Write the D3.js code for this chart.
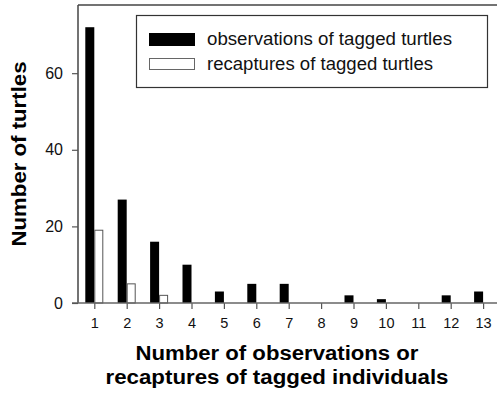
<!DOCTYPE html>
<html>
<head>
<meta charset="utf-8">
<script src="https://cdn.jsdelivr.net/npm/d3@7"></script>
<style>
  body { margin: 0; background: #fff; }
  svg { display: block; font-family: Arial, "Liberation Sans", Helvetica, sans-serif; }
</style>
</head>
<body>
<script>
// number of observations / recaptures (x categories)
const counts = [1, 2, 3, 4, 5, 6, 7, 8, 9, 10, 11, 12, 13];
const observations = [72, 27, 16, 10, 3, 5, 5, 0, 2, 1, 0, 2, 3];
const recaptures = [19, 5, 2, 0, 0, 0, 0, 0, 0, 0, 0, 0, 0];
const yTicks = [0, 20, 40, 60];
const seriesNames = ["observations of tagged turtles", "recaptures of tagged turtles"];

var width = 497, height = 394;
var plotLeft = 78, plotTop = 5, plotBottom = 303;

var svg = d3.select("body").append("svg")
    .attr("width", width).attr("height", height);

var x = d3.scaleLinear().domain([1, 13]).range([94.3, 483.1]);
var y = d3.scaleLinear().domain([0, 77.8]).range([plotBottom, plotTop]);
var barW = 9;

// frame (left + top)
svg.append("line").attr("x1", plotLeft).attr("x2", width).attr("y1", plotTop).attr("y2", plotTop)
   .attr("stroke", "#444").attr("stroke-width", 1.5);
svg.append("line").attr("x1", plotLeft).attr("x2", plotLeft).attr("y1", plotTop).attr("y2", plotBottom)
   .attr("stroke", "#444").attr("stroke-width", 1.5);

// bars
svg.append("g").selectAll("rect")
   .data(counts.map((c, i) => ({c: c, v: observations[i]})).filter(d => d.v > 0))
   .enter().append("rect")
   .attr("x", d => x(d.c) - barW)
   .attr("y", d => y(d.v))
   .attr("width", barW)
   .attr("height", d => plotBottom - y(d.v))
   .attr("fill", "#000");

svg.append("g").selectAll("rect")
   .data(counts.map((c, i) => ({c: c, v: recaptures[i]})).filter(d => d.v > 0))
   .enter().append("rect")
   .attr("x", d => x(d.c) + 0.5)
   .attr("y", d => y(d.v))
   .attr("width", barW - 1)
   .attr("height", d => plotBottom - y(d.v))
   .attr("fill", "#fff")
   .attr("stroke", "#555")
   .attr("stroke-width", 1);

// x axis
var xAxis = d3.axisBottom(x).tickValues(counts).tickSize(6).tickPadding(9).tickFormat(d3.format("d"));
var gx = svg.append("g").attr("transform", "translate(0," + plotBottom + ")").call(xAxis);
gx.select(".domain").remove();
gx.append("line").attr("x1", plotLeft - 6).attr("x2", width).attr("stroke", "#666").attr("stroke-width", 1.5);
gx.selectAll(".tick line").attr("stroke", "#555").attr("stroke-width", 1.2);
gx.selectAll(".tick text").attr("font-size", 14.5).attr("fill", "#111")
  .style("font-family", "Arial, 'Liberation Sans', sans-serif");

// y axis
var yAxis = d3.axisLeft(y).tickValues(yTicks).tickSize(6).tickPadding(9);
var gy = svg.append("g").attr("transform", "translate(" + plotLeft + ",0)").call(yAxis);
gy.select(".domain").remove();
gy.selectAll(".tick line").attr("stroke", "#555").attr("stroke-width", 1.2);
gy.selectAll(".tick text").attr("font-size", 16).attr("fill", "#111")
  .style("font-family", "Arial, 'Liberation Sans', sans-serif");

// axis titles
svg.append("text")
   .attr("transform", "translate(26,154) rotate(-90)")
   .attr("text-anchor", "middle")
   .attr("font-size", 20).attr("font-weight", "bold")
   .attr("textLength", 185).attr("lengthAdjust", "spacingAndGlyphs")
   .text("Number of turtles");
svg.append("text")
   .attr("x", 277).attr("y", 360)
   .attr("text-anchor", "middle")
   .attr("font-size", 20).attr("font-weight", "bold")
   .attr("textLength", 283).attr("lengthAdjust", "spacingAndGlyphs")
   .text("Number of observations or");
svg.append("text")
   .attr("x", 277).attr("y", 384)
   .attr("text-anchor", "middle")
   .attr("font-size", 20).attr("font-weight", "bold")
   .attr("textLength", 343).attr("lengthAdjust", "spacingAndGlyphs")
   .text("recaptures of tagged individuals");

// legend
var lg = svg.append("g").attr("id", "legend");
lg.append("rect").attr("x", 136.5).attr("y", 15.5).attr("width", 351).attr("height", 72)
  .attr("fill", "#fff").attr("stroke", "#333").attr("stroke-width", 1.2);
var legendLen = [245, 226];
var items = lg.selectAll(".item").data(seriesNames).enter().append("g")
  .attr("transform", (d, i) => "translate(149," + (33 + i * 25) + ")");
items.append("rect")
  .attr("x", (d, i) => i ? 0.5 : 0).attr("y", (d, i) => i ? 0.5 : 0)
  .attr("width", (d, i) => i ? 45 : 46).attr("height", (d, i) => i ? 11 : 13)
  .attr("fill", (d, i) => i ? "#fff" : "#000")
  .attr("stroke", (d, i) => i ? "#666" : "none");
items.append("text").attr("x", 58).attr("y", 12)
  .attr("font-size", 17.5).attr("fill", "#111")
  .attr("textLength", (d, i) => legendLen[i]).attr("lengthAdjust", "spacingAndGlyphs")
  .text(d => d);
</script>
</body>
</html>
